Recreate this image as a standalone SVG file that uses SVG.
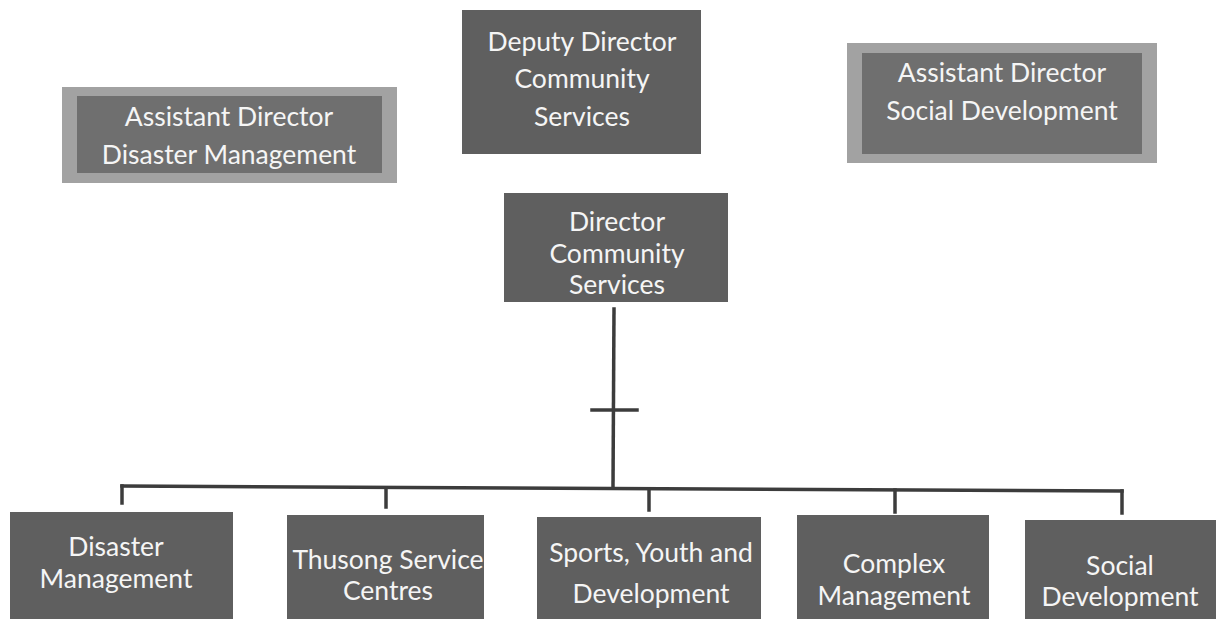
<svg xmlns="http://www.w3.org/2000/svg" width="1218" height="619" viewBox="0 0 1218 619">
  <style>
    .box { fill: #5f5f5f; }
    .frame { fill: #a2a2a2; }
    .inner { fill: #6f6f6f; }
    .label { font-family: Lato, "Open Sans", "Liberation Sans", sans-serif; font-size: 26.5px; fill: #f5f5f5; text-anchor: middle; }
    .line { stroke: #3c3c3c; stroke-width: 3.5; fill: none; stroke-linecap: square; }
  </style>
  <rect width="1218" height="619" fill="#ffffff"/>

  <!-- top row -->
  <g id="ad-disaster">
    <rect class="frame" x="62" y="87" width="335" height="96"/>
    <rect class="inner" x="77" y="96" width="305" height="77"/>
    <text class="label" x="229" y="126">Assistant Director</text>
    <text class="label" x="229" y="164">Disaster Management</text>
  </g>
  <g id="deputy-director">
    <rect class="box" x="462" y="10" width="239" height="144"/>
    <text class="label" x="582" y="51">Deputy Director</text>
    <text class="label" x="582" y="88">Community</text>
    <text class="label" x="582" y="126">Services</text>
  </g>
  <g id="ad-social">
    <rect class="frame" x="847" y="43" width="310" height="120"/>
    <rect class="inner" x="862" y="53" width="280" height="101"/>
    <text class="label" x="1002" y="82">Assistant Director</text>
    <text class="label" x="1002" y="120">Social Development</text>
  </g>

  <!-- director -->
  <g id="director">
    <rect class="box" x="504" y="193" width="224" height="109"/>
    <text class="label" x="617" y="231">Director</text>
    <text class="label" x="617" y="263">Community</text>
    <text class="label" x="617" y="294">Services</text>
  </g>

  <!-- connectors -->
  <g id="connectors">
    <line class="line" x1="614" y1="309" x2="613" y2="488"/>
    <line class="line" x1="592" y1="410" x2="637" y2="410"/>
    <line class="line" x1="122" y1="486" x2="1122" y2="491"/>
    <line class="line" x1="122" y1="486" x2="122" y2="503"/>
    <line class="line" x1="386" y1="488" x2="386" y2="507"/>
    <line class="line" x1="649" y1="489" x2="649" y2="510"/>
    <line class="line" x1="895" y1="490" x2="895" y2="512"/>
    <line class="line" x1="1122" y1="491" x2="1122" y2="513"/>
  </g>

  <!-- bottom row -->
  <g id="disaster-management">
    <rect class="box" x="10" y="512" width="223" height="110"/>
    <text class="label" x="116" y="556">Disaster</text>
    <text class="label" x="116" y="588">Management</text>
  </g>
  <g id="thusong">
    <rect class="box" x="287" y="515" width="197" height="107"/>
    <text class="label" x="388" y="569">Thusong Service</text>
    <text class="label" x="388" y="600">Centres</text>
  </g>
  <g id="sports-youth">
    <rect class="box" x="537" y="517" width="224" height="105"/>
    <text class="label" x="651" y="562">Sports, Youth and</text>
    <text class="label" x="651" y="603">Development</text>
  </g>
  <g id="complex-management">
    <rect class="box" x="797" y="515" width="192" height="107"/>
    <text class="label" x="894" y="573">Complex</text>
    <text class="label" x="894" y="605">Management</text>
  </g>
  <g id="social-development">
    <rect class="box" x="1025" y="520" width="191" height="102"/>
    <text class="label" x="1120" y="575">Social</text>
    <text class="label" x="1120" y="606">Development</text>
  </g>
</svg>
